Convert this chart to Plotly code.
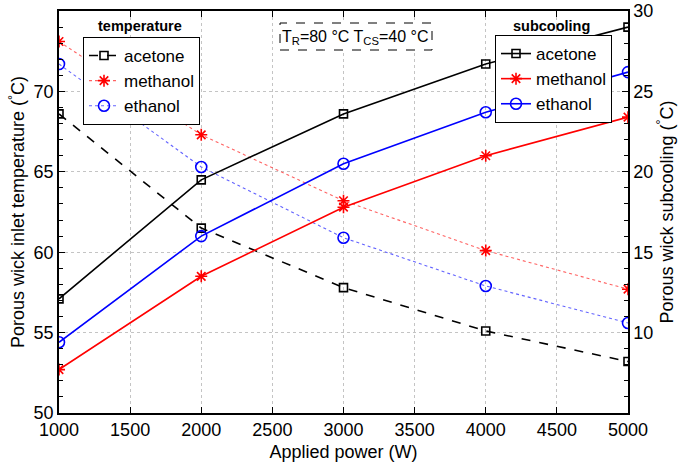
import plotly.graph_objects as go

power = [1000, 2000, 3000, 4000, 5000]
fluids = ["acetone", "methanol", "ethanol"]

temp_acetone = [68.6, 61.5, 57.8, 55.1, 53.2]
temp_methanol = [73.1, 67.3, 63.2, 60.1, 57.7]
temp_ethanol = [71.7, 65.3, 60.9, 57.9, 55.6]

sub_acetone = [12.1, 19.5, 23.6, 26.7, 29.0]
sub_methanol = [7.7, 13.5, 17.8, 21.0, 23.4]
sub_ethanol = [9.4, 16.0, 20.5, 23.7, 26.2]

colors = {"acetone": "black", "methanol": "red", "ethanol": "blue"}
tcolors = {"acetone": "black", "methanol": "rgba(255,60,60,0.8)", "ethanol": "rgba(60,60,255,0.8)"}
symbols = {"acetone": "square-open", "methanol": "asterisk-open", "ethanol": "circle-open"}
msize = {"acetone": 8, "methanol": 10, "ethanol": 11}
temp = {"acetone": temp_acetone, "methanol": temp_methanol, "ethanol": temp_ethanol}
sub = {"acetone": sub_acetone, "methanol": sub_methanol, "ethanol": sub_ethanol}
tdash = {"acetone": "dash", "methanol": "dot", "ethanol": "dot"}
twidth = {"acetone": 1.6, "methanol": 1.1, "ethanol": 1.1}

FONT = "Liberation Sans, Arial, sans-serif"

fig = go.Figure()
for f in fluids:
    fig.add_trace(go.Scatter(
        x=power, y=temp[f], name=f, mode="lines+markers", legend="legend",
        line=dict(color=tcolors[f], dash=tdash[f], width=twidth[f]),
        marker=dict(symbol=symbols[f], size=msize[f], color=colors[f],
                    line=dict(width=1.6, color=colors[f])),
    ))
for f in fluids:
    fig.add_trace(go.Scatter(
        x=power, y=sub[f], name=f, mode="lines+markers", yaxis="y2", legend="legend2",
        line=dict(color=colors[f], width=1.6),
        marker=dict(symbol=symbols[f], size=msize[f], color=colors[f],
                    line=dict(width=1.6, color=colors[f])),
    ))

axis_common = dict(
    showline=True, linecolor="black", linewidth=1.5,
    ticks="inside", ticklen=6, tickcolor="black",
    tickfont=dict(family=FONT, size=18, color="black"),
    zeroline=False, automargin=False,
)

GRID = "#c4c4c4"

fig.update_layout(
    width=680, height=467,
    margin=dict(l=59, r=52, t=11, b=54, autoexpand=False),
    paper_bgcolor="white", plot_bgcolor="white",
    font=dict(family=FONT, size=18, color="black"),
    xaxis=dict(
        range=[1000, 5000], tickvals=[1000, 1500, 2000, 2500, 3000, 3500, 4000, 4500, 5000],
        mirror="ticks", showgrid=True, gridcolor=GRID, griddash="dot", gridwidth=1,
        title=dict(text="Applied power (W)", font=dict(size=18), standoff=6),
        **axis_common,
    ),
    yaxis=dict(
        range=[50, 75], tickvals=[50, 55, 60, 65, 70],
        showgrid=True, gridcolor=GRID, griddash="dot", gridwidth=1,
        minor=dict(dtick=1, ticks="inside", ticklen=4, tickcolor="black", showgrid=False),
        title=dict(text="Porous wick inlet temperature (<sup>°</sup>C)", font=dict(size=18), standoff=4),
        **axis_common,
    ),
    yaxis2=dict(
        range=[5, 30], tickvals=[10, 15, 20, 25, 30], overlaying="y", side="right",
        showgrid=False,
        minor=dict(dtick=1, ticks="inside", ticklen=4, tickcolor="black", showgrid=False),
        title=dict(text="Porous wick subcooling (<sup>°</sup>C)", font=dict(size=18), standoff=8),
        **axis_common,
    ),
    showlegend=True,
)


def px_x(px):
    return (px - 59) / 569.0


def px_y(py):
    return (413 - py) / 402.0


fig.update_layout(
    legend=dict(
        x=px_x(83), y=px_y(37), xanchor="left", yanchor="top",
        bordercolor="black", borderwidth=1, bgcolor="white",
        font=dict(family=FONT, size=17), itemwidth=30, tracegroupgap=0,
    ),
    legend2=dict(
        x=px_x(495), y=px_y(35), xanchor="left", yanchor="top",
        bordercolor="black", borderwidth=1, bgcolor="white",
        font=dict(family=FONT, size=17), itemwidth=30, tracegroupgap=0,
    ),
)

fig.add_annotation(x=px_x(140), y=px_y(26), xref="paper", yref="paper", text="<b>temperature</b>",
                   xanchor="center", yanchor="middle", showarrow=False, font=dict(size=14.5))
fig.add_annotation(x=px_x(551), y=px_y(26), xref="paper", yref="paper", text="<b>subcooling</b>",
                   xanchor="center", yanchor="middle", showarrow=False, font=dict(size=14.5))
fig.add_shape(type="rect", xref="paper", yref="paper",
              x0=px_x(280), x1=px_x(432), y0=px_y(50), y1=px_y(23),
              line=dict(color="black", width=1, dash="dash"), fillcolor="white", layer="above")
fig.add_annotation(x=px_x(355), y=px_y(37), xref="paper", yref="paper",
                   text="T<sub>R</sub>=80 °C T<sub>CS</sub>=40 °C",
                   xanchor="center", yanchor="middle", showarrow=False, font=dict(size=16))

fig.write_html("out.html")
